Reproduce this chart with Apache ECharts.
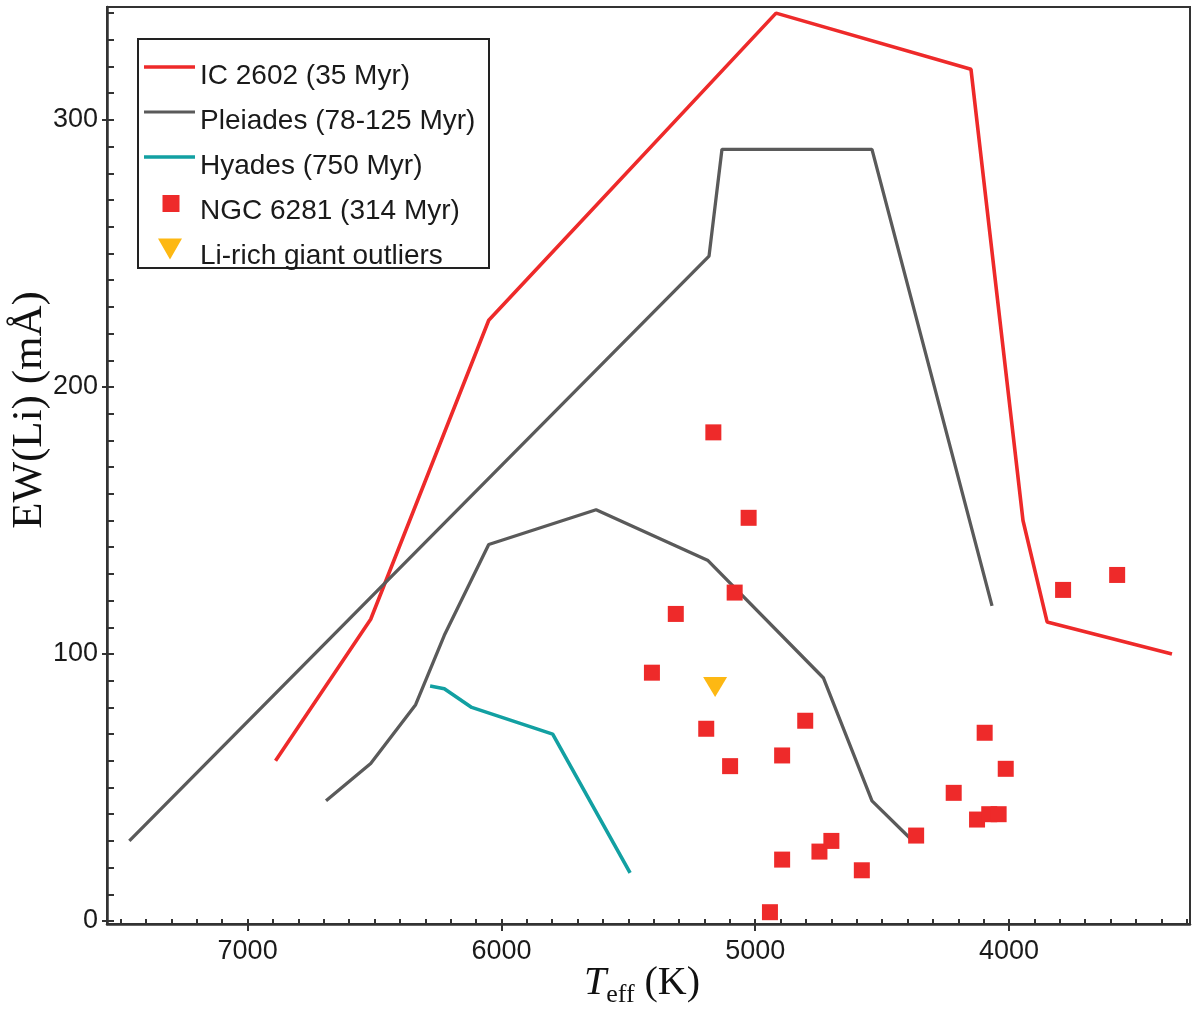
<!DOCTYPE html>
<html>
<head>
<meta charset="utf-8">
<script src="https://cdn.jsdelivr.net/npm/echarts@6/dist/echarts.min.js"></script>
<style>
html,body{margin:0;padding:0;background:#fff;}
#chart{width:1200px;height:1018px;}
</style>
</head>
<body>
<div id="chart"></div>
<script>
// ---- Data (Teff in K, EW(Li) in mÅ) ----
const ic2602T  = [6890, 6515, 6050, 4918, 4150, 3945, 3850, 3358];
const ic2602EW = [60, 113, 225, 340, 319, 150, 112, 100];

const pleiadesUpperT  = [7466, 5182, 5131, 4540, 4067];
const pleiadesUpperEW = [30, 249, 289, 289, 118];

const pleiadesLowerT  = [6691, 6515, 6338, 6225, 6050, 5627, 5186, 4731, 4540, 4390];
const pleiadesLowerEW = [45, 59, 81, 107, 141, 154, 135, 91, 45, 31];

const hyadesT  = [6281, 6225, 6117, 5798, 5493];
const hyadesEW = [88, 87, 80, 70, 18];

const ngcT  = [5165, 5026, 5081, 5313, 5407, 5193, 5099, 4894, 4803, 4894, 4747, 4700, 4580, 4942, 4366, 4218, 4126, 4078, 4041, 4096, 4013, 3787, 3574];
const ngcEW = [183, 151, 123, 115, 93, 72, 58, 62, 75, 23, 26, 30, 19, 3.3, 32, 48, 38, 40, 40, 70.5, 57, 124, 129.6];

const giantT  = [5158];
const giantEW = [87.6];

const xTickLabels = [7000, 6000, 5000, 4000];
const yTickLabels = [0, 100, 200, 300];

const legendNames = ['IC 2602 (35 Myr)', 'Pleiades (78-125 Myr)', 'Hyades (750 Myr)', 'NGC 6281 (314 Myr)', 'Li-rich giant outliers'];

// minor tick positions
const xMinorTicks = [];
for (let t = 3300; t <= 7500; t += 100) xMinorTicks.push(t);
const yMinorTicks = [];
for (let v = 0; v <= 340; v += 10) yMinorTicks.push(v);

function zip(a, b) { return a.map((v, i) => [v, b[i]]); }

const RED = '#EE2A2A', GRAY = '#5A5A5A', TEAL = '#12A0A2', YELLOW = '#FDB813';
const AX = '#333333';
const SANS = '"Liberation Sans", Arial, sans-serif';
const SERIF = '"Liberation Serif", "Times New Roman", serif';

const chart = echarts.init(document.getElementById('chart'), null, {renderer: 'canvas'});

const plain = v => String(v);
const xBase = {type: 'value', min: 3287, max: 7554, inverse: true, gridIndex: 0, splitLine: {show: false}};
const yBase = {type: 'value', min: -1.12, max: 342.3, gridIndex: 0, splitLine: {show: false}};

const option = {
  animation: false,
  backgroundColor: '#ffffff',
  grid: {left: 107, right: 10, top: 7, bottom: 94, show: true, borderColor: AX, borderWidth: 2, backgroundColor: 'transparent', containLabel: false, outerBoundsMode: 'none'},
  xAxis: [
    Object.assign({}, xBase, {
      position: 'bottom',
      axisLine: {show: true, onZero: false, lineStyle: {color: AX, width: 2.5}},
      axisTick: {show: true, inside: true, length: 5, customValues: xMinorTicks, lineStyle: {color: AX, width: 2}},
      axisLabel: {show: true, customValues: xTickLabels, formatter: plain, margin: 14, fontSize: 27, color: '#1a1a1a', fontFamily: SANS},
      name: '{t|T}{s|eff}{n| (K)}',
      nameLocation: 'middle',
      nameGap: 39,
      nameMoveOverlap: false,
      nameTextStyle: {
        padding: [0, 13, 0, 0],
        rich: {
          t: {fontSize: 40, fontStyle: 'italic', fontFamily: SERIF, color: '#111', lineHeight: 40},
          s: {fontSize: 26, fontFamily: SERIF, color: '#111', lineHeight: 26, padding: [24, 0, 0, 0]},
          n: {fontSize: 40, fontFamily: SERIF, color: '#111', lineHeight: 40}
        }
      }
    }),
    Object.assign({}, xBase, {
      position: 'bottom',
      axisLine: {show: false, onZero: false},
      axisTick: {show: true, inside: false, length: 7, customValues: xTickLabels, lineStyle: {color: AX, width: 2}},
      axisLabel: {show: false}
    })
  ],
  yAxis: [
    Object.assign({}, yBase, {
      position: 'left',
      axisLine: {show: true, onZero: false, lineStyle: {color: AX, width: 2.5}},
      axisTick: {show: true, inside: true, length: 7, customValues: yMinorTicks, lineStyle: {color: AX, width: 2}},
      axisLabel: {show: true, customValues: yTickLabels, formatter: plain, margin: 9, fontSize: 27, color: '#1a1a1a', fontFamily: SANS},
      name: 'EW(Li) (mÅ)',
      nameLocation: 'middle',
      nameRotate: 90,
      nameGap: 56,
      nameMoveOverlap: false,
      nameTextStyle: {fontSize: 43, fontFamily: SERIF, color: '#111', padding: [0, 0, 0, 111]}
    }),
    Object.assign({}, yBase, {
      position: 'left',
      axisLine: {show: false, onZero: false},
      axisTick: {show: true, inside: false, length: 5, customValues: yTickLabels, lineStyle: {color: AX, width: 2}},
      axisLabel: {show: false}
    })
  ],
  legend: {
    orient: 'vertical',
    left: 144,
    top: 56,
    padding: 0,
    itemGap: 5,
    itemWidth: 51,
    itemHeight: 40,
    selectedMode: false,
    symbolKeepAspect: true,
    borderWidth: 0,
    itemStyle: {borderWidth: 0},
    textStyle: {fontSize: 28, lineHeight: 28, color: '#1a1a1a', fontFamily: SANS},
    data: [
      {name: legendNames[0], icon: 'path://M0,0L51,40M0,9.2H51V12.8H0Z', itemStyle: {color: RED, borderWidth: 0, opacity: 1}},
      {name: legendNames[1], icon: 'path://M0,0L51,40M0,9.4H51V12.6H0Z', itemStyle: {color: GRAY, borderWidth: 0, opacity: 1}},
      {name: legendNames[2], icon: 'path://M0,0L51,40M0,9.2H51V12.8H0Z', itemStyle: {color: TEAL, borderWidth: 0, opacity: 1}},
      {name: legendNames[3], icon: 'path://M0,0L51,40M18.5,4H35.5V21H18.5Z', itemStyle: {color: RED, borderWidth: 0, opacity: 1}},
      {name: legendNames[4], icon: 'path://M0,0L51,40M14,2.5H38L26,23.5Z', itemStyle: {color: YELLOW, borderWidth: 0, opacity: 1}}
    ]
  },
  graphic: [
    {type: 'rect', shape: {x: 138, y: 39, width: 351, height: 229}, style: {fill: 'none', stroke: '#222', lineWidth: 2}, silent: true}
  ],
  series: [
    {name: legendNames[0], type: 'line', data: zip(ic2602T, ic2602EW), showSymbol: false, color: RED, lineStyle: {color: RED, width: 3.6}, z: 2},
    {name: legendNames[1], type: 'line', data: zip(pleiadesUpperT, pleiadesUpperEW), showSymbol: false, color: GRAY, lineStyle: {color: GRAY, width: 3.3}, z: 2},
    {name: legendNames[1], type: 'line', data: zip(pleiadesLowerT, pleiadesLowerEW), showSymbol: false, color: GRAY, lineStyle: {color: GRAY, width: 3.3}, z: 2},
    {name: legendNames[2], type: 'line', data: zip(hyadesT, hyadesEW), showSymbol: false, color: TEAL, lineStyle: {color: TEAL, width: 3.6}, z: 2},
    {name: legendNames[3], type: 'scatter', data: zip(ngcT, ngcEW), symbol: 'rect', symbolSize: 16, itemStyle: {color: RED, opacity: 1}, z: 4},
    {name: legendNames[4], type: 'scatter', data: zip(giantT, giantEW), symbol: 'triangle', symbolRotate: 180, symbolSize: [24, 20], itemStyle: {color: YELLOW, opacity: 1}, z: 4}
  ]
};

chart.setOption(option);
</script>
</body>
</html>
